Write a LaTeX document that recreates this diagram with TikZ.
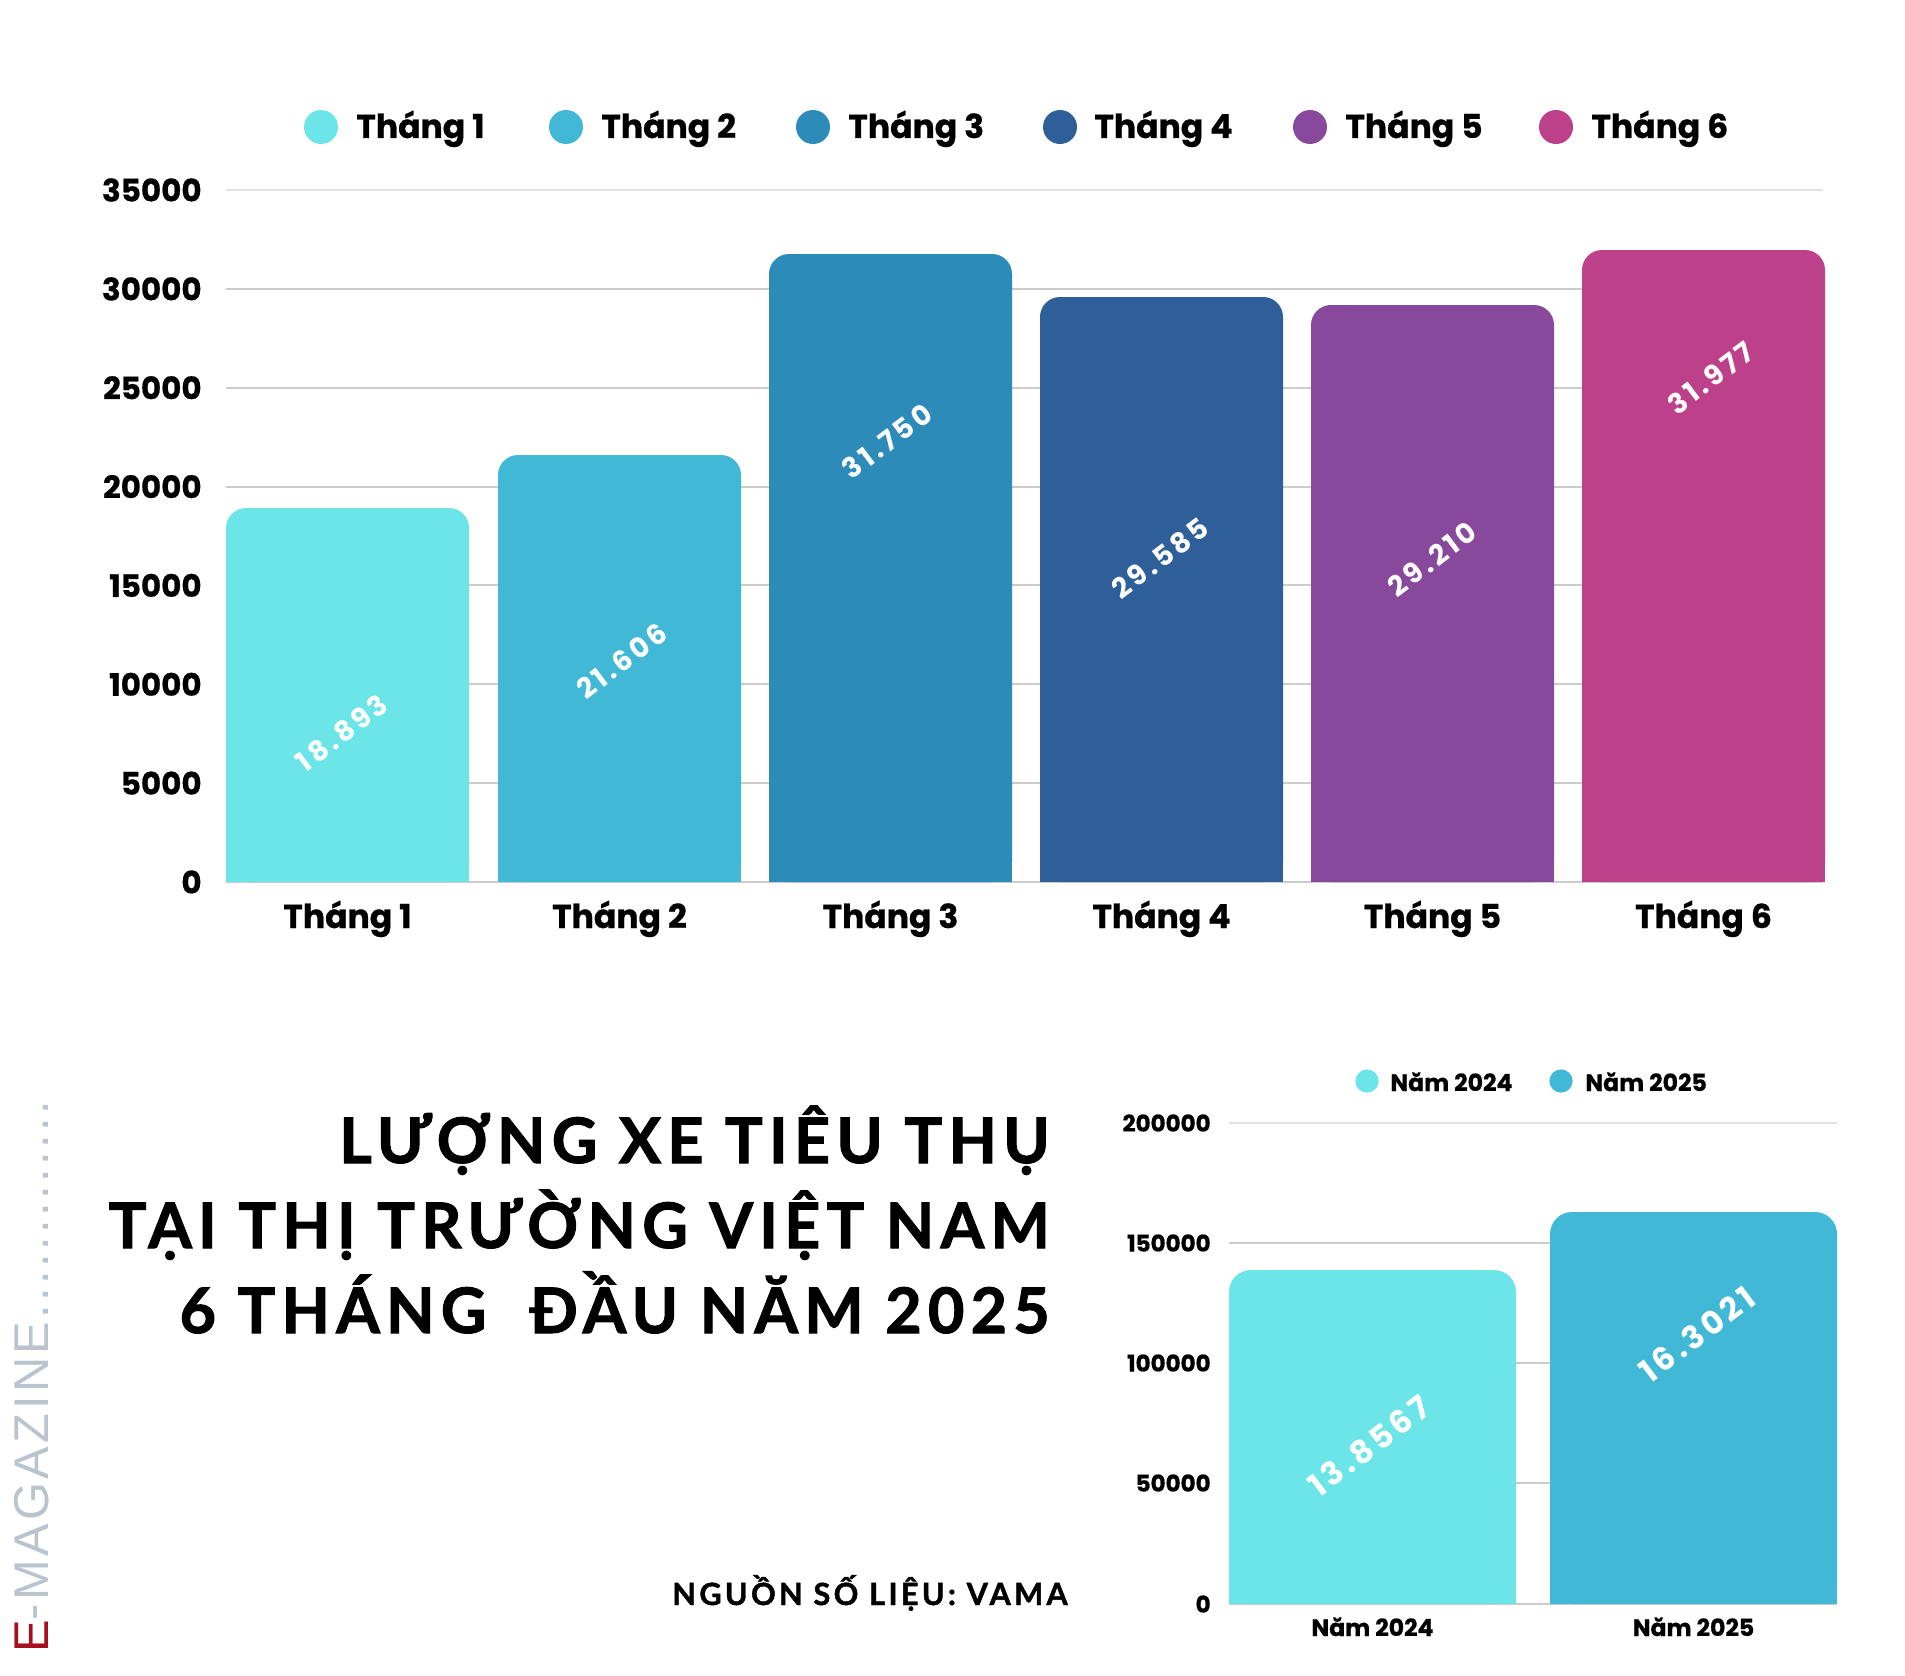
\documentclass[tikz,border=0pt]{standalone}
\usepackage{fontspec}
\setmainfont{Lato}
\newfontfamily\popf{Poppins}[BoldFeatures={FakeBold=0.7}]
\newfontfamily\popval{Poppins}[LetterSpace=12]
\newfontfamily\titlef{Lato}[LetterSpace=10,BoldFeatures={FakeBold=1.6}]
\newfontfamily\srcf{Lato}[LetterSpace=11,BoldFeatures={FakeBold=1.4}]
\newfontfamily\emagf{Liberation Sans}[LetterSpace=7]
\definecolor{c1}{HTML}{6CE5E8}
\definecolor{c2}{HTML}{41B8D5}
\definecolor{c3}{HTML}{2D8BBA}
\definecolor{c4}{HTML}{2F5F98}
\definecolor{c5}{HTML}{88489C}
\definecolor{c6}{HTML}{BC408A}
\definecolor{gridc}{HTML}{CCCCCC}
\definecolor{gridtop}{HTML}{E2E2E2}
\definecolor{emgray}{HTML}{BAC4CE}
\definecolor{emred}{HTML}{A80F1E}
\begin{document}
\begin{tikzpicture}[x=0.5pt,y=-0.5pt,
  leg/.style={inner sep=0pt,font=\popf\bfseries\fontsize{16.5}{18}\selectfont},
  ylab/.style={inner sep=0pt,anchor=east,font=\popf\bfseries\fontsize{15.5}{17}\selectfont},
  sleg/.style={inner sep=0pt,font=\popf\bfseries\fontsize{11.8}{13}\selectfont},
  sylab/.style={inner sep=0pt,anchor=east,font=\popf\bfseries\fontsize{11.5}{13}\selectfont},
  val/.style={inner sep=0pt,text=white,rotate=37,font=\popval\bfseries\fontsize{14}{16}\selectfont},
  sval/.style={inner sep=0pt,text=white,rotate=37,font=\popval\bfseries\fontsize{16}{18}\selectfont},
  titl/.style={inner sep=0pt,anchor=base east,font=\titlef\bfseries\fontsize{31.4}{36}\selectfont},
  srcs/.style={inner sep=0pt,anchor=base west,font=\srcf\bfseries\fontsize{15.3}{17}\selectfont},
  emag/.style={inner sep=0pt,rotate=90,anchor=base west,text=emgray,font=\emagf\fontsize{24.4}{27}\selectfont},
  gline/.style={draw=gridc,line width=1pt}
]
\useasboundingbox (0,0) rectangle (1905,1675);
\fill[white] (0,0) rectangle (1905,1675);

% ---------- top chart: grid and y labels ----------
\draw[gline,draw=gridtop] (226,190) -- (1823,190);
\node[ylab] (y35) at (202,190) {35000};
\foreach \v/\yy in {30000/288.9,25000/387.7,20000/486.6,15000/585.4,10000/684.3,5000/783.1,0/882}{
  \draw[gline] (226,\yy) -- (1823,\yy);
  \node[ylab] (y\v) at (202,\yy) {\v};
}

% ---------- top chart: bars ----------
\foreach \i/\l/\t/\c in {1/226/508/c1,2/498/455/c2,3/769/254/c3,4/1040/297/c4,5/1311/305/c5,6/1582/250/c6}{
  \fill[\c, rounded corners=10pt] (\l,\t) rectangle ({\l+243},882);
  \fill[\c] (\l,{\t+30}) rectangle ({\l+243},882);
  \node[leg, anchor=base] (xl\i) at ({\l+121.5},928) {Tháng \i};
}

% ---------- top chart: value labels ----------
\foreach \lab/\x/\y [count=\i] in {18.893/342/733,21.606/622/661,31.750/887/441,29.585/1160/558,29.210/1432/559,31.977/1711/378}{
  \node[val] (v\i) at (\x,\y) {\lab};
}

% ---------- top chart: legend ----------
\foreach \i/\cx/\tx/\c in {1/321/356/c1,2/566/601/c2,3/813/848/c3,4/1060/1094/c4,5/1310/1345/c5,6/1556/1591/c6}{
  \fill[\c] (\cx,127) circle[radius=8.5pt];
  \node[leg, anchor=base west] (lg\i) at (\tx,138) {Tháng \i};
}

% ---------- small chart ----------
\draw[gline,draw=gridtop] (1229,1123) -- (1837,1123);
\node[sylab] (sy200) at (1211,1123) {200000};
\foreach \v/\yy in {150000/1243,100000/1363,50000/1483,0/1604}{
  \draw[gline] (1229,\yy) -- (1837,\yy);
  \node[sylab] (sy\v) at (1211,\yy) {\v};
}
\foreach \i/\l/\t/\c/\yr in {1/1229/1270/c1/2024,2/1550/1212/c2/2025}{
  \fill[\c, rounded corners=11pt] (\l,\t) rectangle ({\l+287},1604);
  \fill[\c] (\l,{\t+34}) rectangle ({\l+287},1604);
  \node[sleg, anchor=base] (sx\i) at ({\l+143.5},1636) {Năm \yr};
}
\node[sval] (sv1) at (1369,1446) {13.8567};
\node[sval] (sv2) at (1697,1334) {16.3021};
\fill[c1] (1367,1081) circle[radius=5.8pt];
\node[sleg, anchor=base west] (sl1) at (1390,1091) {Năm 2024};
\fill[c2] (1561,1081) circle[radius=5.8pt];
\node[sleg, anchor=base west] (sl2) at (1585,1091) {Năm 2025};

% ---------- title ----------
\node[titl] (t1) at (1050,1163) {LƯỢNG XE TIÊU THỤ};
\node[titl] (t2) at (1050,1248) {TẠI THỊ TRƯỜNG VIỆT NAM};
\node[titl] (t3) at (1050,1333) {6 THÁNG\ \ ĐẦU NĂM 2025};

% ---------- source ----------
\node[srcs] (src) at (672,1605) {NGUỒN SỐ LIỆU: VAMA};

% ---------- side label ----------
\node[emag] (emag) at (48,1653) {\textcolor{emred}{E}-MAGAZINE.............};
\end{tikzpicture}
\end{document}
